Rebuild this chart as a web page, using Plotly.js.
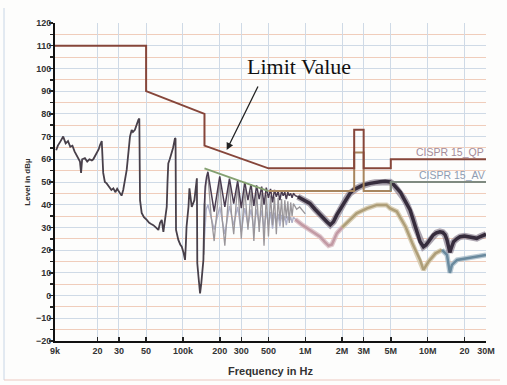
<!DOCTYPE html>
<html>
<head>
<meta charset="utf-8">
<script src="https://cdn.plot.ly/plotly-3.0.1.min.js"></script>
<style>html,body{margin:0;padding:0;background:#fdfdfc;}#chart{width:507px;height:385px;}</style>
</head>
<body>
<div id="chart"></div>
<script>
// ---- Limit lines (CISPR 15) ----
const qpFreqK  = [9, 50, 50, 150, 150, 500, 2510, 2510, 3000, 3000, 5000, 5000, 30000];
const qpLevel  = [110, 110, 90, 80, 66, 56, 56, 73, 73, 56, 56, 60, 60];
const avFreqK  = [150, 500, 2510, 2510, 3000, 3000, 5000, 5000, 30000];
const avLevel  = [56, 46, 46, 63, 63, 46, 46, 50, 50];

// ---- Measured trace (dark, peak) ----
const darkFreqK = [9.2, 9.5, 10, 10.5, 11, 11.5, 12, 12.5, 13, 13.5, 14, 14.4, 14.7, 15, 15.8, 16.5, 17.2, 18, 18.5, 19.2, 19.7, 20.5, 21, 21.7,
  22.3, 23, 23.8, 25, 26, 27, 28, 29, 30.6, 31.5, 32.5, 33.5, 34.7, 36, 36.9, 38.1, 39, 40.5, 41.9, 43.2, 44.0, 44.3, 44.6, 46, 48, 50.6,
  53, 55, 57.3, 60, 63, 65, 67.1, 69.2, 71.4, 73.7, 74.8, 75.9, 78, 80.9, 83, 86.1, 87, 87.8, 91.7, 95, 97.8, 101, 104, 105.5, 107, 111, 113,
  118, 124, 130, 131, 134, 136, 138, 141, 145, 147, 150, 152, 156,
  160, 180, 200, 220, 240, 260, 280, 300, 320, 340, 360, 380, 400, 420, 440, 460, 480, 500, 520, 540, 560, 580, 600, 620, 640, 660, 680,
  700, 720, 740, 760, 780, 800, 830,
  870, 950, 1090, 1200, 1320, 1420, 1500, 1600, 1700, 1810, 1930, 2050, 2180, 2320, 2470, 2630, 2800, 2980, 3390, 3700, 4090, 4500, 4940,
  5250, 5600, 6000, 6340, 6750, 7190, 7550, 7900, 8300, 8680, 9240, 9700, 10150, 10600, 11100, 11800, 12600, 13300, 13900, 14400, 14800,
  15200, 15500, 16300, 17300, 18400, 20000, 22200, 25200, 27000, 28600, 30000];
const darkLevel = [64, 66, 68, 70, 67, 68, 65.5, 66, 63.5, 62, 60.5, 59, 54, 60, 60.5, 59, 60, 59.5, 60, 61.5, 62.6, 64.5, 66.3, 68,
  54, 50, 49.4, 48, 46.5, 47.2, 45.5, 47, 45, 44, 46.5, 50, 55.3, 64, 70, 72.9, 72, 73, 75.9, 77.3, 78, 55, 42, 36.4, 34.5, 33.3,
  32, 31.5, 31, 30, 28.9, 32, 33.3, 28, 34.7, 39, 50, 58.2, 60, 62.6, 65, 69.3, 69, 28.9, 24.5, 22.5, 21.5, 19, 15.7, 22, 30.3, 39.1, 47.2,
  39, 42, 51.6, 14.2, 8.3, 3, 1, 5, 12, 15.7, 40.6, 48, 52.3,
  54.5, 37, 52.5, 39, 51.5, 40.5, 50.5, 38.5, 50, 42, 49, 39.5, 48.5, 42.5, 48, 40, 47.5, 43, 47, 41, 46.5, 43.5, 46, 42, 46, 44, 45.5,
  42.5, 45.5, 44, 45, 43, 45, 44,
  43.5, 42.5, 40.6, 38, 35.5, 33.5, 32.5, 31.1, 32.5, 35.5, 38, 40.6, 43, 45, 46.5, 47.2, 48, 48.7, 49.4, 49.8, 50.1, 50.3, 50,
  49, 47.2, 45.5, 43, 40.5, 37.7, 34, 30.3, 27, 23.7, 21.5, 22.3, 23.7, 25.3, 26.7, 27.6, 28.1, 27.8, 26.7, 24.5, 21.5,
  19, 20.5, 23.7, 25, 25.9, 26.2, 25.9, 25.2, 26, 26.7, 27];

// ---- Measured trace (grey, comb region) ----
const greyFreqK = [148, 152, 156, 160, 170, 180, 190, 200, 210, 220, 230, 240, 250, 260, 270, 280, 300, 320, 340, 360, 380, 400, 420, 440,
  460, 480, 500, 520, 540, 560, 580, 600, 620, 640, 660, 680, 700, 720, 740, 760, 780, 800, 850, 900, 1000];
const greyLevel = [18, 45, 51, 53, 35, 24, 38, 51, 33, 22, 36, 50, 35, 27, 38, 49, 25, 47, 29, 46, 24, 45.5, 28, 45,
  22, 44.5, 26, 44, 31, 43.5, 27, 43, 33, 42.5, 30, 42, 34, 41.5, 32, 41, 35, 40.5, 38, 39, 36];

// ---- Measured trace (average) ----
const avgFreqK = [148, 155, 160, 180, 200, 220, 240, 260, 280, 300, 320, 340, 360, 380, 400, 420, 440, 460, 480, 500, 520, 540, 560, 580,
  600, 620, 640, 660, 680, 700, 720, 740, 760, 780, 800, 830, 870, 950, 1090, 1200, 1320, 1450, 1550, 1650, 1810, 2000, 2240, 2630, 3200,
  3850, 4600, 4940, 5600, 5900, 6600, 7500, 8680, 9240, 10150, 11600, 13100, 14400, 15200, 15800, 17400, 21000, 25200, 30000];
const avgLevel = [20, 38, 40, 29, 39, 27, 39.5, 31, 39, 28, 38.5, 31, 38, 29, 38, 31.5, 37.5, 29.5, 37, 31, 36.8, 29.5, 36.5, 32,
  36, 30.5, 35.5, 32.5, 35, 31, 35, 33, 34.5, 32, 34.5, 33.5, 32.5, 31, 28.9, 27.5, 25.9, 23.5, 22, 22.5, 27.4, 30, 32.5, 36.2, 38.4,
  39.9, 39.9, 38.4, 37, 34.7, 30.3, 23, 15.7, 11.3, 14.9, 18.6, 20.1, 17.9, 10, 13.5, 15.7, 16.4, 17.1, 17.9];

// ---- Axis ticks ----
const xTickValsK = [9, 20, 30, 50, 100, 200, 300, 500, 1000, 2000, 3000, 5000, 10000, 20000, 30000];
const xTickText  = ['9k', '20', '30', '50', '100k', '200', '300', '500', '1M', '2M', '3M', '5M', '10M', '20', '30M'];

const hz = a => a.map(v => v * 1000);
function slice(fk, lv, lo, hi) {
  const x = [], y = [];
  fk.forEach((f, i) => { if (f >= lo && f <= hi) { x.push(f * 1000); y.push(lv[i]); } });
  return {x, y};
}
function line(d, color, width, opacity) {
  return {x: d.x, y: d.y, type: 'scatter', mode: 'lines', line: {color: color, width: width}, opacity: opacity || 1, hoverinfo: 'skip'};
}

const traces = [];
// average trace, coloured segments (soft halo + core)
traces.push(line(slice(avgFreqK, avgLevel, 0, 1000), '#aeb0c8', 1.4));
traces.push(line(slice(avgFreqK, avgLevel, 830, 2100), '#d8bcc2', 5, 0.8));
traces.push(line(slice(avgFreqK, avgLevel, 2000, 13200), '#d2c6a8', 5, 0.8));
traces.push(line(slice(avgFreqK, avgLevel, 13100, 40000), '#a8bcc8', 5, 0.8));
traces.push(line(slice(avgFreqK, avgLevel, 830, 2100), '#c29aa4', 2.5));
traces.push(line(slice(avgFreqK, avgLevel, 2000, 13200), '#ae9e78', 2.5));
traces.push(line(slice(avgFreqK, avgLevel, 13100, 40000), '#6a8a9e', 2.5));
// grey trace
traces.push(line(slice(greyFreqK, greyLevel, 0, 2000), '#9a969a', 1.3));
// dark trace
traces.push(line(slice(darkFreqK, darkLevel, 0, 150), '#48404a', 1.8));
traces.push(line(slice(darkFreqK, darkLevel, 150, 870), '#4a3c50', 1.5));
traces.push(line(slice(darkFreqK, darkLevel, 870, 40000), '#8a8090', 6.5, 0.7));
traces.push(line(slice(darkFreqK, darkLevel, 870, 40000), '#362c3c', 3.5));
// limits
traces.push(line(slice(avFreqK, avLevel, 150, 500), '#84a070', 2));
traces.push(line(slice(avFreqK, avLevel, 500, 5000), '#a8865e', 2));
traces.push(line(slice(avFreqK, avLevel, 5000, 30000), '#7f8a80', 2));
traces.push({x: hz(qpFreqK), y: qpLevel, type: 'scatter', mode: 'lines', line: {color: '#86463a', width: 2}, hoverinfo: 'skip'});

const tickFont = {family: 'Liberation Sans, Arial, sans-serif', size: 9, color: '#333', weight: 'bold'};

const layout = {
  width: 507, height: 385,
  margin: {l: 55, r: 21, t: 23, b: 44},
  paper_bgcolor: '#fdfdfc', plot_bgcolor: '#fdfdfc',
  showlegend: false,
  xaxis: {
    type: 'log', range: [Math.log10(9e3), Math.log10(30e6)],
    tickmode: 'array', tickvals: hz(xTickValsK), ticktext: xTickText,
    ticks: 'inside', ticklen: 4, tickwidth: 1.5, tickcolor: '#222',
    showline: true, linecolor: '#111', linewidth: 2,
    gridcolor: '#cfdae6', gridwidth: 1, zeroline: false,
    tickfont: tickFont,
    title: {text: 'Frequency in Hz', font: {family: 'Liberation Sans, Arial, sans-serif', size: 11, color: '#333', weight: 'bold'}, standoff: 13},
    automargin: false
  },
  yaxis: {
    range: [-20, 120], tick0: 0, dtick: 10,
    ticks: 'outside', ticklen: 4, tickwidth: 1.5, tickcolor: '#222',
    showline: true, linecolor: '#111', linewidth: 2,
    gridcolor: '#cfdae6', gridwidth: 1, zeroline: false,
    minor: {dtick: 5, ticks: 'outside', ticklen: 3, tickcolor: '#222', showgrid: true, gridcolor: '#f0cdbb', gridwidth: 1},
    tickfont: tickFont, ticklabelstandoff: -4,
    title: {text: 'Level in dBµ', font: {family: 'Liberation Sans, Arial, sans-serif', size: 8, color: '#333', weight: 'bold'}, standoff: 4},
    automargin: false
  },
  annotations: [
    {xref: 'paper', yref: 'paper', x: (245 - 55) / 431, y: (341 - 66) / 318, xanchor: 'left', yanchor: 'middle',
     text: 'Limit Value', showarrow: false, font: {family: 'Liberation Serif, Times New Roman, serif', size: 22, color: '#111'}},
    {xref: 'paper', yref: 'paper', x: (226.7 - 55) / 431, y: (341 - 150) / 318, text: '', showarrow: true,
     ax: 32, ay: -65, arrowhead: 2, arrowsize: 1.1, arrowwidth: 1.3, arrowcolor: '#222'},
    {xref: 'paper', yref: 'paper', x: (486 - 55) / 431, y: (341 - 151.5) / 318, xanchor: 'right', yanchor: 'middle',
     text: 'CISPR 15_QP', showarrow: false, font: {family: 'Liberation Sans, Arial, sans-serif', size: 10.5, color: '#a58c9a'}},
    {xref: 'paper', yref: 'paper', x: (487 - 55) / 431, y: (341 - 175) / 318, xanchor: 'right', yanchor: 'middle',
     text: 'CISPR 15_AV', showarrow: false, font: {family: 'Liberation Sans, Arial, sans-serif', size: 10.5, color: '#8f9cb2'}}
  ],
  shapes: [
    {type: 'line', xref: 'paper', yref: 'paper', x0: (4 - 55) / 431, x1: (4 - 55) / 431, y0: (341 - 380) / 318, y1: (341 - 8) / 318,
     line: {color: '#c8d6e6', width: 1}},
    {type: 'line', xref: 'paper', yref: 'paper', x0: (4 - 55) / 431, x1: (500 - 55) / 431, y0: (341 - 380) / 318, y1: (341 - 380) / 318,
     line: {color: '#ecc8c0', width: 1}}
  ]
};

Plotly.newPlot('chart', traces, layout, {staticPlot: true, displayModeBar: false});
</script>
</body>
</html>
